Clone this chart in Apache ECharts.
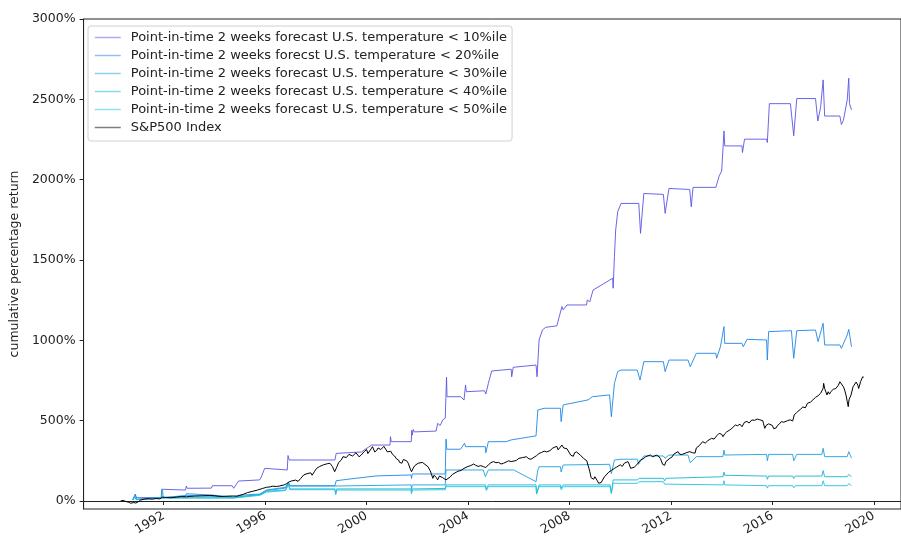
<!DOCTYPE html>
<html>
<head>
<meta charset="utf-8">
<script src="https://cdn.jsdelivr.net/npm/echarts@6/dist/echarts.min.js"></script>
<style>html,body{margin:0;padding:0;background:#fff}#c{width:901px;height:543px}</style>
</head>
<body>
<div id="c"></div>
<script>
const seriesNames = [
  'Point-in-time 2 weeks forecast U.S. temperature < 10%ile',
  'Point-in-time 2 weeks forecst U.S. temperature < 20%ile',
  'Point-in-time 2 weeks forecast U.S. temperature < 30%ile',
  'Point-in-time 2 weeks forecast U.S. temperature < 40%ile',
  'Point-in-time 2 weeks forecast U.S. temperature < 50%ile',
  'S&P500 Index'
];
const xTickYears = [1992, 1996, 2000, 2004, 2008, 2012, 2016, 2020];
const yTickValues = [0, 500, 1000, 1500, 2000, 2500, 3000];

const p10Years = [1990.78,1990.85,1990.88,1990.92,1991.9,1991.92,1991.96,1992.86,1992.89,1992.93,1993.88,1993.92,1994.7,1994.76,1994.95,1995.78,1995.85,1995.98,1996.02,1996.87,1996.9,1996.95,1997.75,1997.78,1997.82,1998.75,1998.8,1998.85,1999.8,1999.9,2000.2,2000.92,2000.94,2000.97,2001.76,2001.78,2001.8,2001.84,2001.88,2002.74,2002.8,2002.9,2003.0,2003.1,2003.15,2003.17,2003.71,2003.84,2003.9,2003.93,2004.65,2004.7,2004.8,2004.93,2004.98,2005.7,2005.72,2005.78,2006.68,2006.72,2006.8,2006.93,2007.06,2007.5,2007.6,2007.7,2007.75,2007.9,2008.67,2008.7,2008.8,2008.93,2009.7,2009.72,2009.77,2009.82,2009.9,2010.03,2010.73,2010.8,2010.93,2011.7,2011.77,2011.92,2012.74,2012.8,2012.87,2013.77,2013.9,2014.0,2014.09,2014.12,2014.8,2014.82,2014.9,2014.95,2015.77,2015.8,2015.88,2016.71,2016.84,2016.96,2017.7,2017.79,2017.9,2018.0,2018.06,2018.66,2018.72,2018.8,2018.95,2019.01,2019.04,2019.12];
const p10Values = [8,20,43,20,22,73,68,68,93,79,80,95,95,79,124,131,150,203,193,193,283,255,255,262,255,255,296,300,305,317,348,348,400,369,369,440,410,445,430,435,483,470,504,515,770,649,649,628,722,680,686,666,732,809,820,820,773,832,846,773,1002,1064,1081,1090,1150,1210,1190,1220,1220,1251,1240,1313,1386,1324,1521,1687,1800,1852,1852,1666,1914,1908,1790,1945,1939,1831,1952,1952,2023,2054,2303,2210,2210,2169,2252,2262,2252,2231,2473,2473,2273,2505,2505,2365,2450,2621,2396,2396,2343,2370,2496,2631,2473,2434];

const p20Years = [1990.78,1990.88,1990.92,1991.9,1992.86,1992.89,1992.95,1993.9,1994.76,1994.95,1995.79,1996.05,1996.8,1996.87,1996.92,1996.97,1998.75,1998.8,1999.5,2000.4,2001.75,2001.77,2001.8,2003.1,2003.13,2003.16,2003.7,2003.8,2003.86,2003.9,2004.68,2004.7,2004.8,2005.5,2005.7,2005.75,2006.68,2006.75,2007.0,2007.64,2007.67,2007.75,2008.73,2008.9,2009.58,2009.65,2009.77,2009.9,2010.03,2010.67,2010.78,2010.93,2011.7,2011.77,2011.92,2012.67,2012.76,2013.0,2013.77,2013.8,2013.95,2014.09,2014.12,2014.8,2014.85,2015.0,2015.77,2015.8,2015.85,2016.75,2016.84,2016.96,2017.7,2017.8,2018.0,2018.06,2018.66,2018.72,2018.95,2019.01,2019.12];
const p20Values = [6,37,10,20,30,45,35,37,23,35,43,68,85,90,118,95,95,126,140,156,162,140,168,168,385,322,322,345,359,338,338,300,369,369,380,390,405,566,577,577,494,598,629,649,660,525,732,805,815,815,753,867,867,805,877,877,836,919,919,888,960,1085,981,981,960,1006,1002,877,1054,1060,888,1060,1064,992,1106,971,971,950,1033,1068,960];

const p30Years = [1990.78,1990.88,1990.92,1991.92,1992.9,1994.76,1995.79,1996.05,1996.8,1996.92,1996.97,1998.75,1998.8,2001.75,2001.77,2001.8,2003.1,2003.13,2004.6,2004.68,2004.8,2005.8,2006.68,2006.75,2006.8,2007.64,2007.67,2007.75,2009.58,2009.65,2009.77,2010.03,2010.67,2010.72,2010.93,2011.7,2011.77,2011.92,2012.67,2012.76,2013.0,2014.05,2014.09,2014.12,2015.77,2015.8,2015.85,2016.8,2016.84,2016.96,2017.95,2018.0,2018.06,2018.95,2019.01,2019.12];
const p30Values = [6,37,10,20,35,23,40,65,80,110,93,93,95,100,75,100,100,193,193,151,193,193,120,193,213,213,180,224,228,170,255,260,260,228,280,280,266,286,286,238,276,276,317,286,290,250,290,290,250,290,290,328,276,276,307,266];

const p40Years = [1990.78,1990.88,1990.92,1991.92,1991.95,1991.98,1994.76,1995.79,1996.05,1996.8,1996.92,1996.97,1998.75,1998.78,1998.82,2001.75,2001.77,2001.8,2003.1,2003.13,2004.68,2004.72,2004.8,2006.68,2006.7,2006.8,2007.64,2007.67,2007.75,2009.6,2009.65,2009.72,2010.67,2010.75,2011.7,2011.75,2011.8,2014.05,2014.09,2014.12,2015.77,2015.8,2015.85,2016.8,2016.84,2016.9,2017.95,2018.0,2018.06,2018.95,2019.01,2019.12];
const p40Values = [6,30,8,20,73,20,20,40,60,68,112,75,75,42,75,75,50,75,78,100,100,75,100,100,43,100,100,80,100,100,48,131,131,141,141,125,141,151,180,160,155,135,155,155,140,155,155,189,151,151,165,150];

const p50Years = [1990.78,1990.88,1990.92,1991.92,1994.76,1995.79,1996.05,1996.8,1996.92,1996.97,1998.75,1998.78,1998.82,2001.75,2001.77,2001.8,2003.1,2003.13,2004.68,2004.72,2004.8,2006.68,2006.7,2006.8,2007.64,2007.67,2007.75,2009.6,2009.65,2009.72,2010.67,2010.75,2011.7,2011.75,2011.8,2014.05,2014.09,2014.12,2015.77,2015.8,2015.85,2016.8,2016.84,2016.9,2017.95,2018.0,2018.06,2018.95,2019.01,2019.12];
const p50Values = [6,30,8,18,18,35,55,65,100,70,70,40,68,68,45,68,70,89,89,65,89,89,43,89,89,70,89,89,48,110,110,120,120,105,100,100,126,100,95,80,95,95,82,95,95,126,95,95,108,95];

const spYears = [1990.30,1990.40,1990.48,1990.55,1990.62,1990.70,1990.76,1990.82,1990.90,1991.0,1991.08,1991.15,1991.25,1991.4,1991.55,1991.7,1991.85,1991.95,1992.1,1992.3,1992.5,1992.7,1992.9,1993.0,1993.2,1993.5,1993.8,1994.0,1994.15,1994.3,1994.5,1994.75,1994.9,1995.0,1995.15,1995.3,1995.5,1995.7,1995.9,1996.05,1996.2,1996.3,1996.45,1996.56,1996.62,1996.75,1996.85,1996.95,1997.05,1997.2,1997.3,1997.4,1997.52,1997.65,1997.8,1997.85,1997.95,1998.03,1998.15,1998.3,1998.45,1998.55,1998.65,1998.74,1998.82,1998.9,1999.0,1999.07,1999.2,1999.3,1999.45,1999.58,1999.65,1999.7,1999.78,1999.84,1999.92,2000.0,2000.05,2000.1,2000.18,2000.23,2000.32,2000.4,2000.45,2000.5,2000.56,2000.61,2000.68,2000.75,2000.82,2000.87,2000.95,2001.02,2001.1,2001.18,2001.26,2001.3,2001.39,2001.45,2001.5,2001.58,2001.64,2001.72,2001.77,2001.84,2001.9,2001.97,2002.03,2002.1,2002.2,2002.3,2002.42,2002.5,2002.55,2002.61,2002.66,2002.7,2002.75,2002.8,2002.87,2002.94,2003.0,2003.05,2003.13,2003.2,2003.3,2003.38,2003.45,2003.6,2003.72,2003.84,2004.0,2004.1,2004.22,2004.3,2004.4,2004.5,2004.61,2004.7,2004.8,2004.9,2005.0,2005.1,2005.2,2005.3,2005.4,2005.5,2005.6,2005.7,2005.77,2005.9,2006.0,2006.15,2006.3,2006.4,2006.48,2006.6,2006.7,2006.8,2006.9,2007.0,2007.1,2007.15,2007.25,2007.32,2007.42,2007.5,2007.55,2007.6,2007.7,2007.77,2007.82,2007.9,2007.96,2008.05,2008.1,2008.15,2008.2,2008.28,2008.35,2008.43,2008.5,2008.55,2008.61,2008.68,2008.72,2008.77,2008.8,2008.85,2008.9,2008.95,2009.0,2009.05,2009.1,2009.15,2009.19,2009.25,2009.3,2009.38,2009.45,2009.55,2009.65,2009.77,2009.85,2010.0,2010.08,2010.16,2010.3,2010.35,2010.41,2010.48,2010.55,2010.65,2010.8,2010.9,2011.0,2011.1,2011.19,2011.28,2011.35,2011.42,2011.5,2011.58,2011.62,2011.67,2011.7,2011.75,2011.8,2011.87,2011.96,2012.05,2012.1,2012.2,2012.28,2012.35,2012.4,2012.45,2012.5,2012.6,2012.74,2012.8,2012.85,2012.95,2013.0,2013.12,2013.25,2013.35,2013.45,2013.52,2013.6,2013.7,2013.8,2013.9,2014.0,2014.05,2014.12,2014.2,2014.3,2014.4,2014.54,2014.62,2014.72,2014.8,2014.9,2015.0,2015.08,2015.19,2015.3,2015.4,2015.5,2015.57,2015.62,2015.65,2015.7,2015.75,2015.85,2015.92,2016.0,2016.05,2016.08,2016.15,2016.2,2016.28,2016.35,2016.45,2016.5,2016.6,2016.7,2016.8,2016.86,2016.95,2017.0,2017.1,2017.2,2017.3,2017.38,2017.5,2017.6,2017.7,2017.8,2017.9,2018.0,2018.02,2018.06,2018.1,2018.15,2018.2,2018.25,2018.3,2018.4,2018.5,2018.6,2018.66,2018.73,2018.8,2018.85,2018.9,2018.95,2018.99,2019.02,2019.1,2019.18,2019.25,2019.3,2019.37,2019.4,2019.48,2019.56,2019.6];
const spValues = [0,4,-2,2,-8,-14,-17,-10,-13,-5,5,8,12,14,11,15,13,24,22,20,24,27,26,28,30,32,34,33,29,28,30,31,30,35,42,52,60,68,78,85,88,92,90,93,88,100,108,120,125,130,122,140,162,170,175,160,185,203,215,225,232,235,215,182,210,240,255,276,270,290,280,300,290,275,285,296,310,320,295,300,325,338,305,315,330,340,320,328,340,335,305,296,310,290,280,262,255,240,235,258,265,250,235,200,182,205,220,230,235,228,240,228,213,190,170,141,160,165,145,131,155,151,145,140,131,135,150,165,172,185,190,203,215,220,230,222,215,220,213,208,225,238,245,238,240,230,235,242,250,245,255,252,265,270,275,262,260,272,282,296,302,310,305,298,315,328,335,340,318,320,348,330,340,325,317,285,290,278,300,305,296,285,275,265,266,250,240,200,182,145,150,135,151,145,125,110,100,115,130,151,160,180,190,203,210,225,215,235,245,230,203,215,210,225,255,262,275,282,286,275,280,285,280,265,250,228,235,222,245,235,266,275,290,300,307,290,280,290,285,300,307,295,300,298,330,345,369,360,375,368,390,385,405,421,415,400,418,430,440,452,473,468,478,462,490,495,485,504,502,510,505,514,500,480,452,470,480,490,470,450,442,455,470,480,494,490,500,500,505,498,535,550,560,570,585,580,608,615,630,645,655,670,700,732,700,690,660,680,665,680,695,700,720,742,735,711,690,660,620,587,630,660,711,720,740,720,700,745,773,770];

const colors = ['#5b55e3', '#1f86e8', '#1ea0e0', '#17b6cf', '#22c3e3', '#000000'];
const yearLists = [p10Years, p20Years, p30Years, p40Years, p50Years, spYears];
const valueLists = [p10Values, p20Values, p30Values, p40Values, p50Values, spValues];

const font = 'DejaVu Sans';
const series = seriesNames.map((name, i) => ({
  name: name,
  type: 'line',
  symbol: 'none',
  data: yearLists[i].map((yr, k) => [yr, valueLists[i][k]]),
  lineStyle: { color: colors[i], width: 1, opacity: i === 5 ? 1 : 0.9 },
  itemStyle: { color: colors[i] },
  z: i === 5 ? 3 : 2
}));

const chart = echarts.init(document.getElementById('c'), null, { renderer: 'canvas' });
chart.setOption({
  animation: false,
  backgroundColor: '#fff',
  grid: { left: 82, top: 19, right: -14, bottom: 34, show: true, borderColor: '#222', borderWidth: 1 },
  legend: {
    orient: 'vertical', left: 88, top: 26,
    padding: [5, 5, 7, 6],
    itemWidth: 26, itemHeight: 14, itemGap: 5,
    backgroundColor: '#fff', borderColor: '#d0d0d0', borderWidth: 1, borderRadius: 3,
    itemStyle: { opacity: 0 },
    lineStyle: { width: 1.5, opacity: 0.5 },
    textStyle: { fontFamily: font, fontSize: 13, color: '#222', padding: [0, 0, 0, 5] },
    data: seriesNames
  },
  xAxis: {
    type: 'value', min: 1988.84, max: 2021.07,
    splitLine: { show: false },
    axisLine: { show: true, lineStyle: { color: '#222' } },
    axisTick: { show: true, length: 4, lineStyle: { color: '#222' }, customValues: xTickYears },
    axisLabel: { customValues: xTickYears, rotate: 30, margin: 6, fontFamily: font, fontSize: 12.5, color: '#222', formatter: v => String(v) }
  },
  yAxis: {
    type: 'value', min: -50, max: 3000,
    name: 'cumulative percentage return', nameLocation: 'middle', nameGap: 53,
    nameTextStyle: { fontFamily: font, fontSize: 12.5, color: '#222' },
    splitLine: { show: false },
    axisLine: { show: true, lineStyle: { color: '#222' } },
    axisTick: { show: true, length: 4, lineStyle: { color: '#222' }, customValues: yTickValues },
    axisLabel: { customValues: yTickValues, margin: 8, fontFamily: font, fontSize: 12.5, color: '#222', formatter: v => v + '%' }
  },
  series: series
});
</script>
</body>
</html>
